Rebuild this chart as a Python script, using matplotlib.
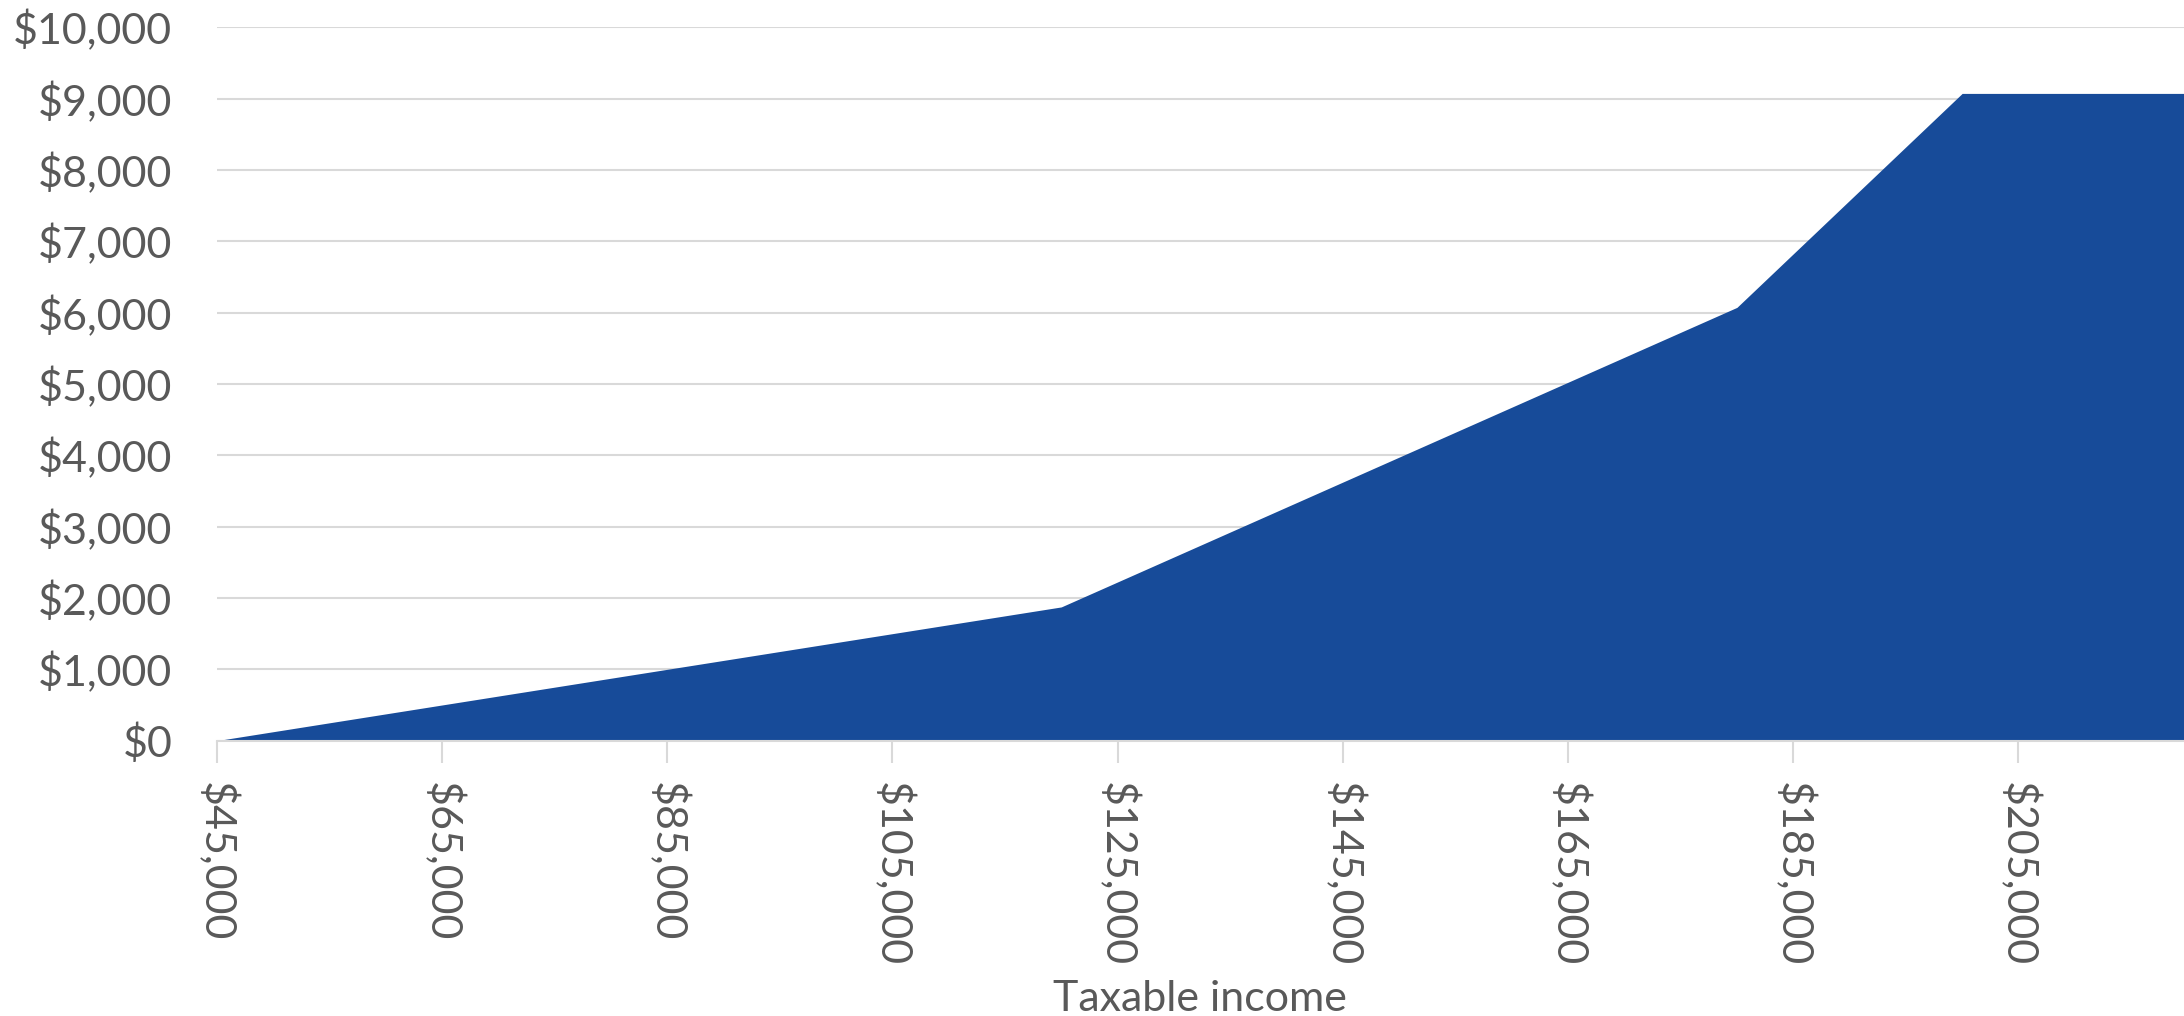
import matplotlib
matplotlib.use("Agg")
import matplotlib.pyplot as plt
from matplotlib.ticker import FuncFormatter

# Tax saving by taxable income (kink points of the schedule)
income = [45000, 120000, 180000, 200000, 220000]
saving = [0, 1875, 6075, 9075, 9075]

x_ticks = [45000, 65000, 85000, 105000, 125000, 145000, 165000, 185000, 205000]
y_ticks = [0, 1000, 2000, 3000, 4000, 5000, 6000, 7000, 8000, 9000, 10000]

plt.rcParams['font.family'] = ['Lato', 'DejaVu Sans']
grey = "#595959"

fig = plt.figure(figsize=(21.84, 10.16), dpi=100)
ax = fig.add_axes([0.0992, 0.271, 0.9008, 0.702])

ax.fill_between(income, saving, 0, color="#174B99", linewidth=0, zorder=2)

ax.set_xlim(45000, 219700)
ax.set_ylim(0, 10000)
ax.set_xticks(x_ticks)
ax.set_yticks(y_ticks)

money = FuncFormatter(lambda v, p: "${:,.0f}".format(v))
ax.xaxis.set_major_formatter(money)
ax.yaxis.set_major_formatter(money)

ax.grid(axis="y", color="#D9D9D9", linewidth=1.5, zorder=0)
for s in ["top", "right", "left"]:
    ax.spines[s].set_visible(False)
ax.spines["bottom"].set_color("#D9D9D9")
ax.spines["bottom"].set_linewidth(1.5)
ax.spines["bottom"].set_zorder(3)

ax.tick_params(axis="y", length=0, pad=32, labelsize=31, labelcolor=grey)
ax.tick_params(axis="x", length=16, width=1.5, color="#D9D9D9", pad=14,
               labelsize=31, labelcolor=grey, labelrotation=-90)

ax.set_xlabel("Taxable income", fontsize=31, color=grey, labelpad=10)

fig.savefig("out.png", dpi=100)
